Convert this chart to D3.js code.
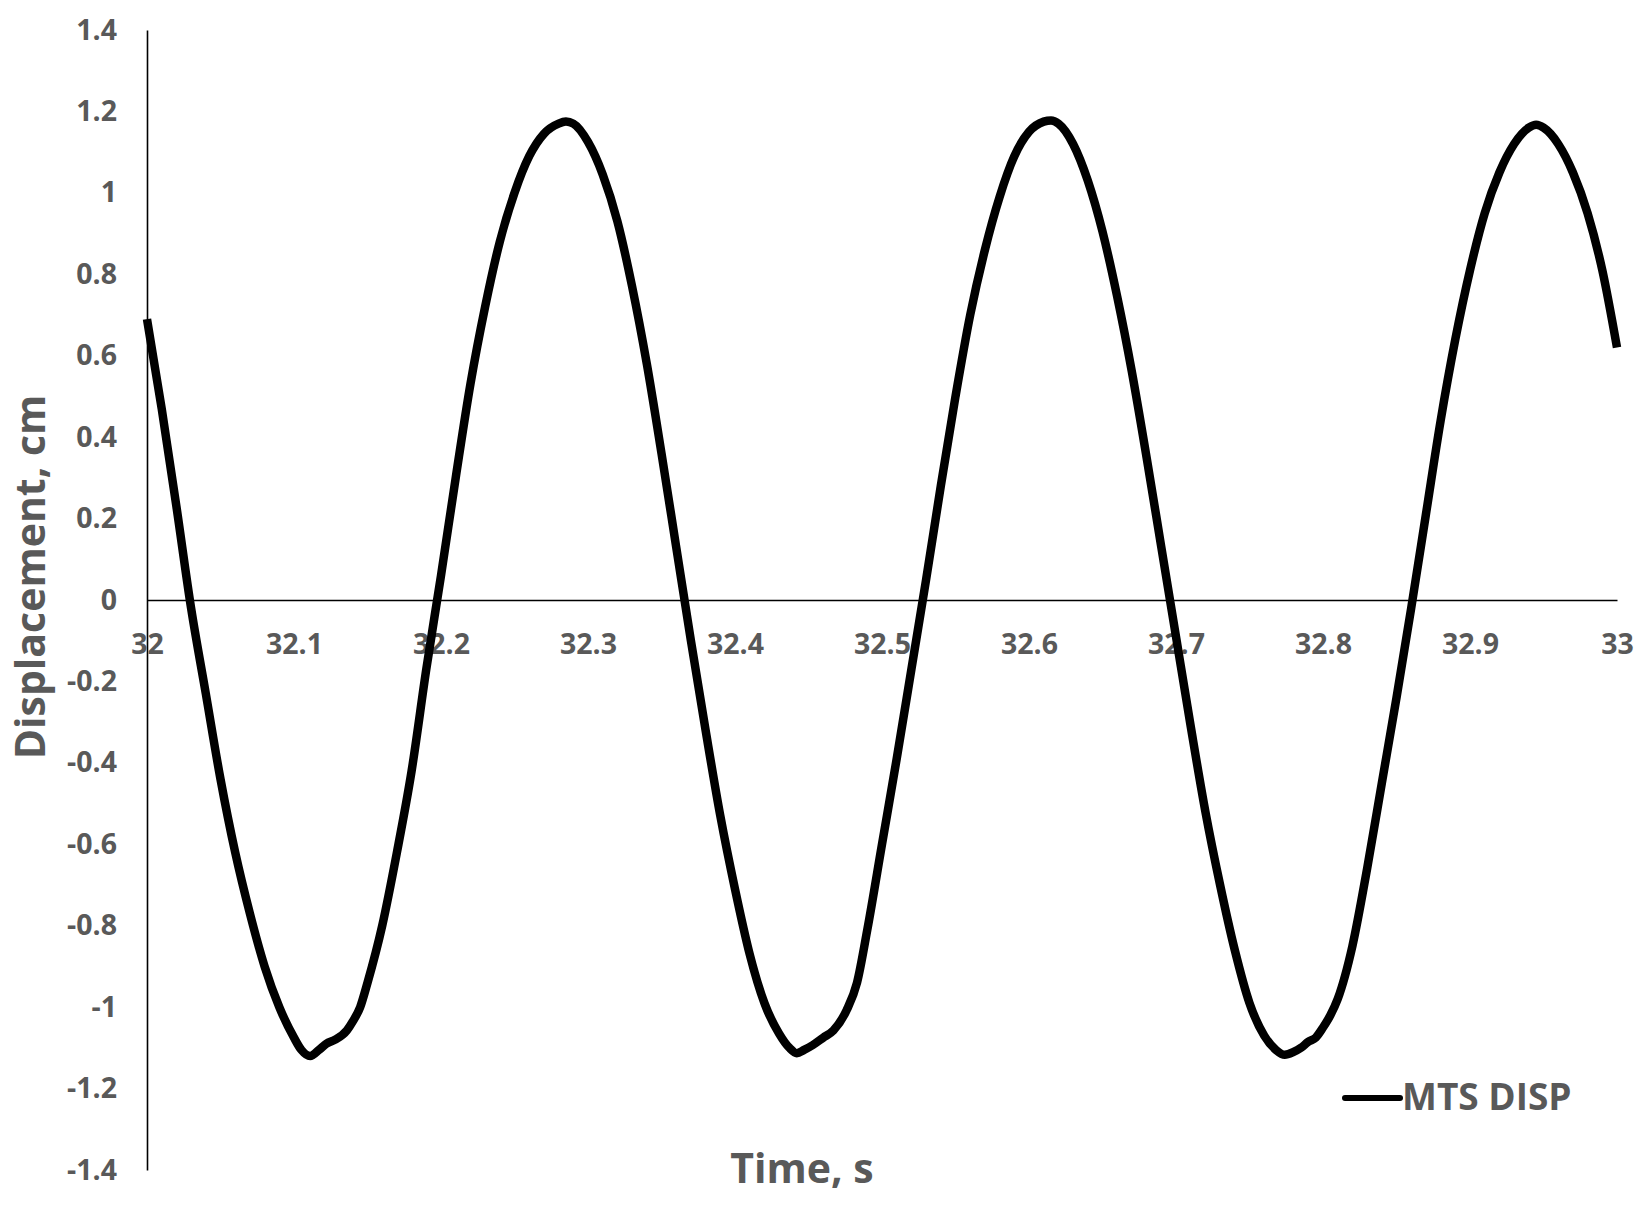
<!DOCTYPE html>
<html>
<head>
<meta charset="utf-8">
<script src="https://cdn.jsdelivr.net/npm/d3@7"></script>
<style>
	body { margin: 0; background: #fff; }
	svg { display: block; }
	text { font-family: "Open Sans", Lato, sans-serif; font-weight: bold; fill: #595959; }
</style>
</head>
<body>
<svg id="chart"></svg>
<script>
// MTS DISP
const time = [
	32.000, 32.010, 32.020, 32.030, 32.040, 32.050, 32.060, 32.070, 32.080, 32.090,
	32.100, 32.105, 32.111, 32.117, 32.122, 32.128, 32.136, 32.140, 32.145, 32.150,
	32.160, 32.170, 32.180, 32.190, 32.200, 32.210, 32.220, 32.230, 32.240, 32.250,
	32.260, 32.270, 32.280, 32.285, 32.290, 32.300, 32.310, 32.320, 32.330, 32.340,
	32.350, 32.360, 32.370, 32.380, 32.390, 32.400, 32.410, 32.420, 32.430, 32.437,
	32.442, 32.447, 32.453, 32.460, 32.467, 32.476, 32.483, 32.490, 32.500, 32.510,
	32.520, 32.530, 32.540, 32.550, 32.560, 32.570, 32.580, 32.590, 32.600, 32.610,
	32.615, 32.620, 32.630, 32.640, 32.650, 32.660, 32.670, 32.680, 32.690, 32.700,
	32.710, 32.720, 32.730, 32.740, 32.750, 32.760, 32.768, 32.774, 32.780, 32.785,
	32.790, 32.795, 32.800, 32.805, 32.810, 32.820, 32.830, 32.840, 32.850, 32.860,
	32.870, 32.880, 32.890, 32.900, 32.910, 32.920, 32.930, 32.940, 32.945, 32.950,
	32.960, 32.970, 32.980, 32.990, 33.000
];
const disp = [
	0.69, 0.47, 0.23, -0.02, -0.23, -0.44, -0.62, -0.77, -0.90, -1.00,
	-1.075, -1.105, -1.12, -1.105, -1.09, -1.08, -1.057, -1.035, -1.00, -0.94,
	-0.80, -0.62, -0.42, -0.17, 0.06, 0.30, 0.53, 0.72, 0.88, 1.00,
	1.09, 1.145, 1.17, 1.175, 1.17, 1.125, 1.045, 0.93, 0.77, 0.58,
	0.36, 0.13, -0.10, -0.32, -0.53, -0.71, -0.87, -0.99, -1.065, -1.10,
	-1.113, -1.105, -1.093, -1.075, -1.057, -1.007, -0.94, -0.81, -0.60, -0.39,
	-0.17, 0.05, 0.28, 0.50, 0.70, 0.86, 0.99, 1.09, 1.15, 1.175,
	1.178, 1.17, 1.12, 1.03, 0.905, 0.745, 0.56, 0.35, 0.13, -0.09,
	-0.31, -0.52, -0.70, -0.86, -0.99, -1.07, -1.105, -1.117, -1.11, -1.10,
	-1.085, -1.075, -1.05, -1.02, -0.98, -0.85, -0.66, -0.45, -0.24, -0.02,
	0.21, 0.44, 0.64, 0.81, 0.95, 1.05, 1.12, 1.16, 1.167, 1.16,
	1.12, 1.05, 0.95, 0.81, 0.62
];

const xTicks = [32, 32.1, 32.2, 32.3, 32.4, 32.5, 32.6, 32.7, 32.8, 32.9, 33];
const xTickLabels = ["32", "32.1", "32.2", "32.3", "32.4", "32.5", "32.6", "32.7", "32.8", "32.9", "33"];
const yTicks = [1.4, 1.2, 1, 0.8, 0.6, 0.4, 0.2, 0, -0.2, -0.4, -0.6, -0.8, -1, -1.2, -1.4];
const yTickLabels = ["1.4", "1.2", "1", "0.8", "0.6", "0.4", "0.2", "0", "-0.2", "-0.4", "-0.6", "-0.8", "-1", "-1.2", "-1.4"];

const seriesName = "MTS DISP";
const xTitle = "Time, s";
const yTitle = "Displacement, cm";

let svgWidth = 1652, svgHeight = 1222;
let margin = { top: 30, right: 35, bottom: 52, left: 147 };

let svg = d3.select("#chart")
	.attr("width", svgWidth)
	.attr("height", svgHeight);

svg.append("rect")
	.attr("width", svgWidth)
	.attr("height", svgHeight)
	.attr("fill", "#fff");

//scales
let x = d3.scaleLinear()
	.domain([32, 33])
	.range([margin.left, svgWidth - margin.right]);
let y = d3.scaleLinear()
	.domain([-1.4, 1.4])
	.range([svgHeight - margin.bottom, margin.top]);

//y axis
let yAxis = svg.append("g")
	.attr("transform", "translate(" + x(32) + ",0)")
	.call(d3.axisLeft(y)
		.tickValues(yTicks)
		.tickFormat((d, i) => yTickLabels[i])
		.tickSize(0)
		.tickPadding(30));
yAxis.select(".domain").attr("stroke", "#000").attr("stroke-width", 1.6);
yAxis.selectAll("text")
	.attr("font-size", 28.5)
	.attr("font-family", null)
	.attr("fill", null);

//x axis sits on the zero line
let xAxis = svg.append("g")
	.attr("transform", "translate(0," + y(0) + ")")
	.call(d3.axisBottom(x)
		.tickValues(xTicks)
		.tickFormat((d, i) => xTickLabels[i])
		.tickSize(0)
		.tickPadding(34));
xAxis.select(".domain").attr("stroke", "#000").attr("stroke-width", 1.6);
xAxis.selectAll("text")
	.attr("font-size", 28.5)
	.attr("font-family", null)
	.attr("fill", null);

//series
let data = time.map((t, i) => ({ t: t, v: disp[i] }));
let line = d3.line()
	.x(d => x(d.t))
	.y(d => y(d.v))
	.curve(d3.curveMonotoneX);

svg.append("path")
	.datum(data)
	.attr("fill", "none")
	.attr("stroke", "#000")
	.attr("stroke-width", 8.5)
	.attr("stroke-linejoin", "round")
	.attr("d", line);

//axis titles
svg.append("text")
	.attr("x", 802)
	.attr("y", 1183)
	.attr("text-anchor", "middle")
	.attr("font-size", 41)
	.text(xTitle);

svg.append("text")
	.attr("transform", "translate(45," + 577 + ") rotate(-90)")
	.attr("text-anchor", "middle")
	.attr("font-size", 41)
	.text(yTitle);

//legend
let legend = svg.append("g").attr("transform", "translate(1345,1098)");
legend.append("line")
	.attr("x1", 0)
	.attr("x2", 55)
	.attr("stroke", "#000")
	.attr("stroke-width", 6)
	.attr("stroke-linecap", "round");
legend.append("text")
	.attr("x", 57)
	.attr("y", 12)
	.attr("font-size", 37)
	.text(seriesName);
</script>
</body>
</html>
